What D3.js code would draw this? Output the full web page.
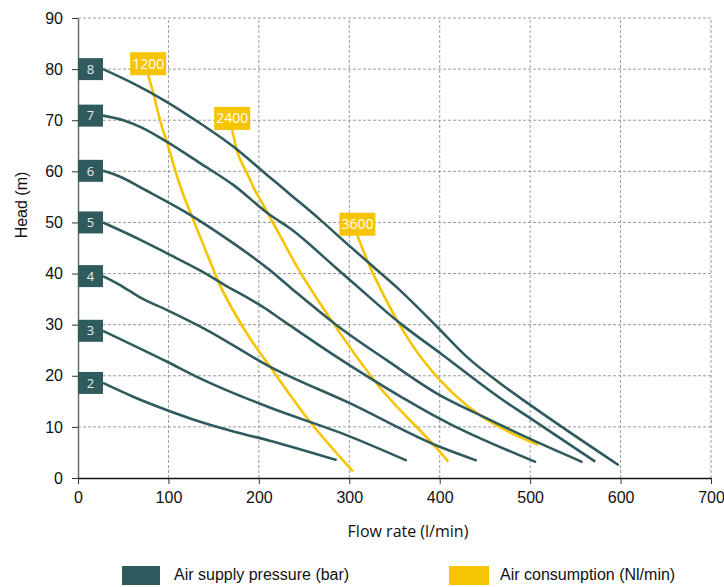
<!DOCTYPE html>
<html><head><meta charset="utf-8">
<script src="https://cdn.jsdelivr.net/npm/d3@7/dist/d3.min.js"></script>
<style>body{margin:0;background:#fff}svg{display:block}</style>
</head><body>
<svg id="chart" width="724" height="587"></svg>
<script>
// ---- data ----
const xTicks = [0, 100, 200, 300, 400, 500, 600, 700];
const yTicks = [0, 10, 20, 30, 40, 50, 60, 70, 80, 90];

const pressureLabels = ["8", "7", "6", "5", "4", "3", "2"];
const p8 = [[27.6,80],[61,77.2],[98,73.6],[135,69.4],[172,64.8],[209,59.3],[238,55],[268,50.5],[297,45.9],[330,40.8],[352,37.4],[397,29.6],[430,23.7],[467,18.5],[500,14.3],[598,2.5]];
const p7 = [[27.6,70.9],[50,70],[70,68.6],[98,65.8],[135,61.6],[172,57.3],[212,51.5],[234,48.9],[286,41],[301,38.7],[356,30.3],[400,24.5],[467,15.6],[500,11.7],[572,3.2]];
const p6 = [[27.6,60.1],[46,59],[74,56.4],[124,51.5],[172,45.9],[212,40.7],[238,36.8],[286,29.9],[341,23.1],[400,16.2],[448,12],[503,7.4],[558,3.1]];
const p5 = [[27.6,50],[69,46.6],[98,44],[135,40.6],[161,37.9],[212,32.6],[220,31.6],[234,29.9],[286,23.7],[360,15.6],[400,11.6],[411,10.6],[506.5,3.1]];
const p4 = [[27.6,39.5],[46,37.8],[69,35.3],[98,32.9],[142,29],[212,21.8],[301,14.6],[400,6.1],[441,3.4]];
const p3 = [[27.6,28.8],[98,22.8],[135,19.5],[172,16.6],[212,13.8],[301,8.1],[363.6,3.4]];
const p2 = [[27.6,18.6],[61,15.9],[98,13.3],[135,11],[172,9.1],[212,7.3],[286,3.5]];
const pressureSeries = [p8, p7, p6, p5, p4, p3, p2];

const consumptionLabels = ["1200", "2400", "3600"];
const c1200 = [[77.6,78.8],[83.3,75.3],[90.7,70],[100,64.8],[107.3,60.3],[114.7,56.3],[127.5,50.5],[142.3,44],[158.9,37],[175.5,31.6],[190,27.4],[212.3,21.8],[256.6,11],[304,1.3]];
const c2400 = [[170.5,68.1],[175.5,64.2],[186.5,59.8],[195.7,56.3],[205,53.4],[212,51.1],[223.4,47.4],[242,41.4],[282.3,30.3],[330.3,18.5],[400.3,5.1],[409.5,3.2]];
const c3600 = [[309,47.4],[315.5,44.5],[323,41.3],[334,37.2],[352.4,31],[370.8,25.7],[400,19.2],[430,14.2],[448,11.9],[467,9.9],[485,8.3],[509,6.5]];
const consumptionSeries = [c1200, c2400, c3600];

const legendLabels = ["Air supply pressure (bar)", "Air consumption (Nl/min)"];

// ---- drawing ----
const TEAL = "#2f5b5f", YELLOW = "#f6c400";
const svg = d3.select("#chart");
const x = d3.scaleLinear().domain([0, 700]).range([78, 711]);
const y = d3.scaleLinear().domain([0, 90]).range([478, 18]);

// grid
const grid = svg.append("g");
grid.selectAll("line.v").data(xTicks.slice(1)).join("line")
  .attr("x1", d => x(d)).attr("x2", d => x(d)).attr("y1", y(0)).attr("y2", y(90))
  .attr("stroke", "#9a9a9a").attr("stroke-width", 1).attr("stroke-dasharray", "3,2");
grid.selectAll("line.h").data(yTicks.slice(1)).join("line")
  .attr("x1", x(0)).attr("x2", x(700)).attr("y1", d => y(d)).attr("y2", d => y(d))
  .attr("stroke", "#9a9a9a").attr("stroke-width", 1).attr("stroke-dasharray", "3,2");

// axes
const yAxis = svg.append("g").attr("transform", `translate(${x(0)},0)`)
  .call(d3.axisLeft(y).tickValues(yTicks).tickSize(6).tickSizeOuter(0).tickPadding(9).tickFormat(d3.format("d")));
yAxis.select(".domain").attr("stroke", "#6a6a6a").attr("stroke-width", 1.5);
yAxis.selectAll(".tick line").attr("stroke", "#333");
yAxis.selectAll("text").attr("font-family", "Liberation Sans, Arial, sans-serif").attr("font-size", 16).attr("fill", "#111");

const xAxis = svg.append("g").attr("transform", `translate(0,${y(0)})`)
  .call(d3.axisBottom(x).tickValues(xTicks).tickSize(6).tickSizeOuter(0).tickPadding(8).tickFormat(d3.format("d")));
xAxis.select(".domain").attr("stroke", "#111").attr("stroke-width", 1.5);
xAxis.selectAll(".tick line").attr("stroke", "#333");
xAxis.selectAll("text").attr("font-family", "Liberation Sans, Arial, sans-serif").attr("font-size", 16).attr("fill", "#111");

// titles
svg.append("text").attr("transform", "translate(27,205) rotate(-90)").attr("text-anchor", "middle")
  .attr("font-family", "Liberation Sans, Arial, sans-serif").attr("font-size", 16).attr("fill", "#111").text("Head (m)");
svg.append("text").attr("x", 408).attr("y", 537).attr("text-anchor", "middle")
  .attr("font-family", "Open Sans, Noto Sans, sans-serif").attr("font-size", 16).attr("fill", "#111").text("Flow rate (l/min)");

const line = d3.line().x(d => x(d[0])).y(d => y(d[1])).curve(d3.curveMonotoneX);

// consumption curves
svg.append("g").selectAll("path").data(consumptionSeries).join("path")
  .attr("d", line).attr("fill", "none").attr("stroke", YELLOW).attr("stroke-width", 2.6);
// pressure curves
svg.append("g").selectAll("path").data(pressureSeries).join("path")
  .attr("d", line).attr("fill", "none").attr("stroke", TEAL).attr("stroke-width", 2.6);

// pressure labels
const pl = svg.append("g").selectAll("g").data(pressureSeries).join("g")
  .attr("transform", d => `translate(${x(0)},${y(d[0][1])})`);
pl.append("rect").attr("x", 0).attr("y", -11).attr("width", 25).attr("height", 22).attr("fill", TEAL);
pl.append("text").attr("x", 12.5).attr("y", 0).attr("dy", "0.36em").attr("text-anchor", "middle")
  .attr("font-family", "Open Sans, Noto Sans, sans-serif").attr("font-size", 13).attr("fill", "#e6ecec")
  .text((d, i) => pressureLabels[i]);

// consumption labels
const cl = svg.append("g").selectAll("g").data(consumptionSeries).join("g")
  .attr("transform", d => `translate(${x(d[0][0])},${y(d[0][1])})`);
cl.append("rect").attr("x", -18).attr("y", -23).attr("width", 36).attr("height", 23).attr("fill", YELLOW);
cl.append("text").attr("x", 0).attr("y", -11.5).attr("dy", "0.36em").attr("text-anchor", "middle")
  .attr("font-family", "Open Sans, Noto Sans, sans-serif").attr("font-size", 14).attr("fill", "#fff")
  .text((d, i) => consumptionLabels[i]);

// legend
const legend = svg.append("g");
const legendPos = [{rx: 122, rw: 38, tx: 174, c: TEAL}, {rx: 449, rw: 40, tx: 500, c: YELLOW}];
legend.selectAll("rect").data(legendLabels).join("rect")
  .attr("x", (d, i) => legendPos[i].rx).attr("y", 566).attr("width", (d, i) => legendPos[i].rw).attr("height", 19)
  .attr("fill", (d, i) => legendPos[i].c);
legend.selectAll("text").data(legendLabels).join("text")
  .attr("x", (d, i) => legendPos[i].tx).attr("y", 580)
  .attr("font-family", "Liberation Sans, Arial, sans-serif").attr("font-size", 16).attr("fill", "#111")
  .text(d => d);
</script>
</body></html>
